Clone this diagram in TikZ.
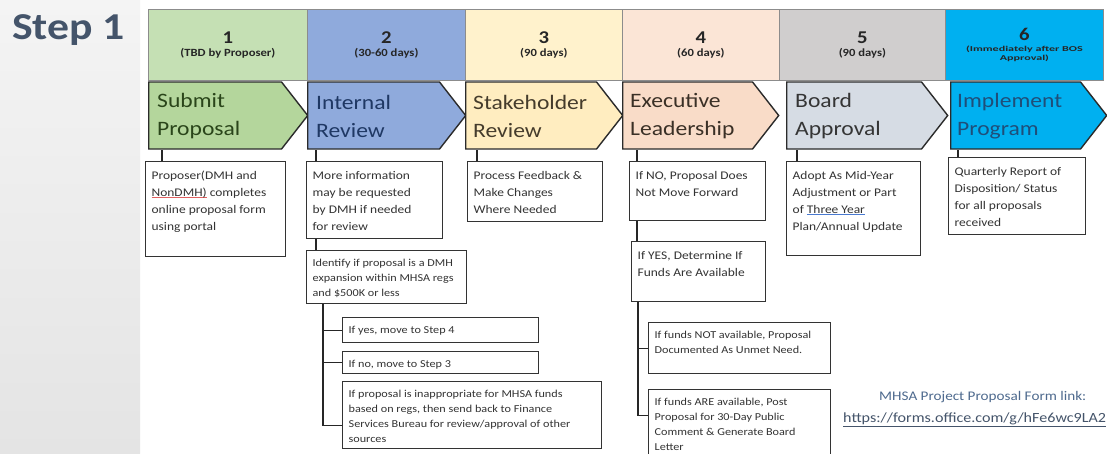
\documentclass[tikz,border=0pt]{standalone}
\usepackage{graphicx}
\usepackage{fontspec}
\setmainfont{Carlito}[FakeStretch=1.15]
\usetikzlibrary{calc,shapes.symbols}

\definecolor{hdrA}{HTML}{C5E0B4}
\definecolor{hdrB}{HTML}{8FAADC}
\definecolor{hdrC}{HTML}{FFF2CC}
\definecolor{hdrD}{HTML}{FBE5D6}
\definecolor{hdrE}{HTML}{D0CECE}
\definecolor{hdrF}{HTML}{00B0F0}
\definecolor{chevA}{HTML}{B4D69C}
\definecolor{chevB}{HTML}{8FAADC}
\definecolor{chevC}{HTML}{FFEDC0}
\definecolor{chevD}{HTML}{F9DCC8}
\definecolor{chevE}{HTML}{D6DCE4}
\definecolor{chevF}{HTML}{00B0F0}
\definecolor{chevtxtA}{HTML}{2A451A}
\definecolor{chevtxtB}{HTML}{1F3864}
\definecolor{chevtxtC}{HTML}{453C2C}
\definecolor{chevtxtD}{HTML}{3A3026}
\definecolor{chevtxtE}{HTML}{353535}
\definecolor{chevtxtF}{HTML}{1F4E79}
\definecolor{hdrline}{HTML}{8C8C8C}
\definecolor{chevline}{HTML}{2B2B2B}
\definecolor{boxline}{HTML}{333333}
\definecolor{bodytext}{HTML}{333333}
\definecolor{stepblue}{HTML}{44546A}
\definecolor{linkblue}{HTML}{4E6A8E}
\definecolor{urlblue}{HTML}{44546A}
\definecolor{stripTop}{HTML}{F4F4F4}
\definecolor{stripBot}{HTML}{E4E4E4}
\definecolor{squigred}{HTML}{E06060}
\definecolor{squigblue}{HTML}{4A7AD0}

\newcommand\bodyfont{\fontsize{11.7}{17}\selectfont}
\newcommand\smallfont{\fontsize{10.6}{15}\selectfont}
\newcommand\chevfont{\fontsize{20.5}{28}\selectfont}
\newcommand\numfont{\fontsize{18}{18}\selectfont}
\newcommand\daysfont{\fontsize{11}{13}\selectfont}
\newcommand\tinyfont{\fontsize{7.5}{12}\selectfont}
\newsavebox\markbox
\newcommand\spellmark[2]{\sbox\markbox{#2}\rlap{\textcolor{#1}{\rule[-2pt]{\wd\markbox}{0.7pt}}}\usebox\markbox}
\newcommand\boxtxt[3]{\parbox[t][#2][t]{#1}{\begin{tabular}[t]{@{}l@{}}#3\end{tabular}}}
\newcommand\wide[1]{\scalebox{1.4}[1]{\tinyfont #1}}

\tikzset{
  hdr/.style={draw=hdrline, line width=0.8pt, anchor=north west, minimum height=71pt,
    inner sep=0pt, align=center, font=\bfseries, text=black!85},
  chev/.style={signal, signal to=east, signal from=nowhere, signal pointer angle=104,
    minimum height=67pt, draw=chevline, line width=1.4pt, anchor=west, inner sep=0pt},
  chevtext/.style={anchor=west, inner sep=0pt, align=left, font=\chevfont},
  box/.style={draw=boxline, line width=1.3pt, fill=white, anchor=north west,
    inner xsep=6pt, inner ysep=5.5pt, text=bodytext, font=\bodyfont},
  smallbox/.style={box, font=\smallfont},
  link/.style={draw=black!85, line width=1.3pt}
}

\begin{document}
\begin{tikzpicture}[x=1pt, y=-1pt]
  \clip (0,0) rectangle (1107,453);
  \fill[white] (0,0) rectangle (1107,453);
  \shade[top color=stripTop, bottom color=stripBot] (0,0) rectangle (140,453);

  \node[anchor=west, inner sep=0pt, text=stepblue,
    font=\fontsize{38}{38}\selectfont\bfseries] (steplabel) at (12,30) {Step 1};

  % header row
  \node[hdr, fill=hdrA, minimum width=159pt] (h1) at (148,9)
    {\numfont 1\\[1pt]\daysfont (TBD by Proposer)};
  \node[hdr, fill=hdrB, minimum width=158pt] (h2) at (307,9)
    {\numfont 2\\[1pt]\daysfont (30-60 days)};
  \node[hdr, fill=hdrC, minimum width=157pt] (h3) at (465,9)
    {\numfont 3\\[1pt]\daysfont (90 days)};
  \node[hdr, fill=hdrD, minimum width=157pt] (h4) at (622,9)
    {\numfont 4\\[1pt]\daysfont (60 days)};
  \node[hdr, fill=hdrE, minimum width=166pt] (h5) at (779,9)
    {\numfont 5\\[1pt]\daysfont (90 days)};
  \node[hdr, fill=hdrF, minimum width=158pt] (h6) at (945,9)
    {\numfont 6\\[-1pt]\wide{(Immediately after BOS}\\[-3pt]\wide{Approval)}};

  % chevrons
  \node[chev, fill=chevA, minimum width=159pt] (ch1) at (148,115.5) {};
  \node[chev, fill=chevB, minimum width=158pt] (ch2) at (307,115.5) {};
  \node[chev, fill=chevC, minimum width=157pt] (ch3) at (465,115.5) {};
  \node[chev, fill=chevD, minimum width=156pt] (ch4) at (622,115.5) {};
  \node[chev, fill=chevE, minimum width=161pt] (ch5) at (786,115.5) {};
  \node[chev, fill=chevF, minimum width=156pt] (ch6) at (950,115.5) {};
  \node[chevtext, text=chevtxtA] (t1) at (157,116) {Submit\\Proposal};
  \node[chevtext, text=chevtxtB] (t2) at (316,116) {Internal\\Review};
  \node[chevtext, text=chevtxtC] (t3) at (473,116) {Stakeholder\\Review};
  \node[chevtext, text=chevtxtD] (t4) at (630,116) {Executive\\Leadership};
  \node[chevtext, text=chevtxtE] (t5) at (795,116) {Board\\Approval};
  \node[chevtext, text=chevtxtF] (t6) at (957,116) {Implement\\Program};

  % detail boxes
  \node[box] (b1) at (145,161) {\boxtxt{128pt}{84pt}{Proposer(DMH and\\
    \spellmark{squigred}{NonDMH)} completes\\online proposal form\\using portal}};
  \node[box] (b2) at (306,161) {\boxtxt{124pt}{66pt}{More information\\
    may be requested\\by DMH if needed\\for review}};
  \node[smallbox] (b2a) at (306,250) {\boxtxt{148pt}{42pt}{Identify if proposal is a DMH\\
    expansion within MHSA regs\\and \$500K or less}};
  \node[smallbox] (b2b) at (342,317) {\boxtxt{184pt}{14pt}{If yes, move to Step 4}};
  \node[smallbox] (b2c) at (342,351) {\boxtxt{184pt}{11pt}{If no, move to Step 3}};
  \node[smallbox] (b2d) at (342,381) {\boxtxt{247pt}{56pt}{If proposal is inappropriate for MHSA funds\\
    based on regs, then send back to Finance\\Services Bureau for review/approval of other\\sources}};
  \node[box] (b3) at (467,161) {\boxtxt{123pt}{49pt}{Process Feedback \&\\
    Make Changes\\Where Needed}};
  \node[box] (b4a) at (629,161) {\boxtxt{124pt}{48pt}{If NO, Proposal Does\\Not Move Forward}};
  \node[box] (b4b) at (631,241) {\boxtxt{122pt}{49pt}{If YES, Determine If\\Funds Are Available}};
  \node[smallbox] (b4c) at (648,322) {\boxtxt{170pt}{40pt}{If funds NOT available, Proposal\\
    Documented As Unmet Need.}};
  \node[smallbox] (b4d) at (648,389) {\boxtxt{170pt}{69pt}{If funds ARE available, Post\\
    Proposal for 30-Day Public\\Comment \& Generate Board\\Letter}};
  \node[box] (b5) at (786,161) {\boxtxt{122pt}{83pt}{Adopt As Mid-Year\\
    Adjustment or Part\\of \spellmark{squigblue}{Three Year}\\Plan/Annual Update}};
  \node[box] (b6) at (948,157) {\boxtxt{125pt}{66pt}{Quarterly Report of\\
    Disposition/ Status\\for all proposals\\received}};

  % connectors
  \draw[link] ([xshift=17pt]b1.north west) -- ([xshift=17pt]b1.north west |- ch1.south);
  \draw[link] ([xshift=10pt]b2.north west) -- ([xshift=10pt]b2.north west |- ch2.south);
  \draw[link] ([xshift=10pt]b2.south west) -- ([xshift=10pt]b2.south west |- b2a.north);
  \draw[link] ([xshift=17pt]b2a.south west) |- (b2b.west);
  \draw[link] ([xshift=17pt]b2a.south west) |- (b2c.west);
  \draw[link] ([xshift=17pt]b2a.south west) |- ([yshift=-10.5pt]b2d.west);
  \draw[link] ([xshift=10pt]b3.north west) -- ([xshift=10pt]b3.north west |- ch3.south);
  \draw[link] ([xshift=8pt]b4a.north west) -- ([xshift=8pt]b4a.north west |- ch4.south);
  \draw[link] ([xshift=8pt]b4a.south west) -- ([xshift=8pt]b4a.south west |- b4b.north);
  \draw[link] ([xshift=7pt]b4b.south west) |- (b4c.west);
  \draw[link] ([xshift=7pt]b4b.south west) |- ([yshift=14pt]b4d.west);
  \draw[link] ([xshift=11pt]b5.north west) -- ([xshift=11pt]b5.north west |- ch5.south);
  \draw[link] ([xshift=10pt]b6.north west) -- ([xshift=10pt]b6.north west |- ch6.south);

  % form link
  \node[anchor=west, inner sep=0pt, text=linkblue, font=\fontsize{13.2}{16}\selectfont]
    (formlabel) at (879,397) {MHSA Project Proposal Form link:};
  \node[anchor=west, inner sep=0pt, text=urlblue, font=\fontsize{14}{16}\selectfont]
    (formurl) at (843,420) {\underline{https://forms.office.com/g/hFe6wc9LA2}};
\end{tikzpicture}
\end{document}
